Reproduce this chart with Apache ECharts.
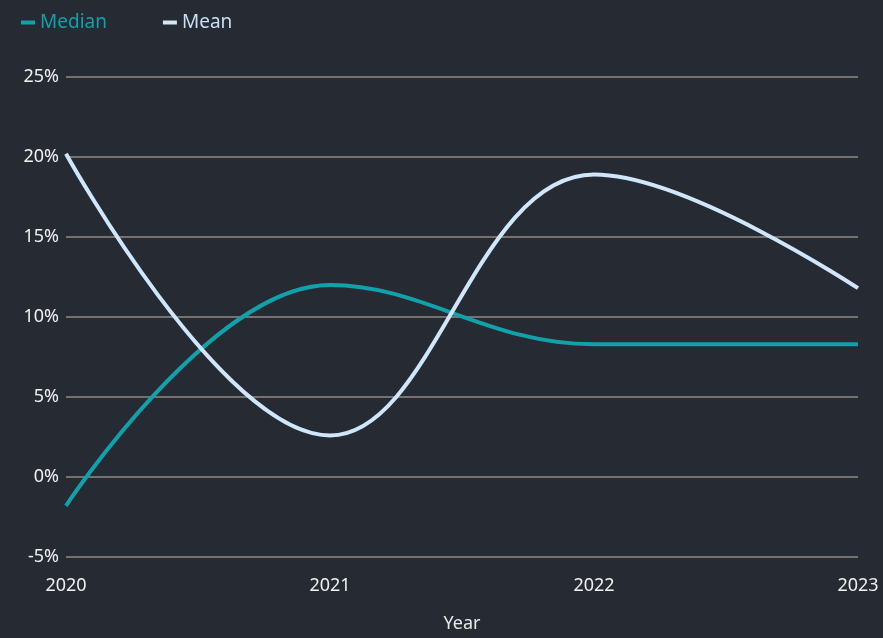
<!DOCTYPE html>
<html>
<head>
<meta charset="utf-8">
<script src="https://cdn.jsdelivr.net/npm/echarts@6/dist/echarts.min.js"></script>
<style>
  html, body { margin: 0; padding: 0; background: #262a33; }
  #chart { width: 883px; height: 638px; }
</style>
</head>
<body>
<div id="chart"></div>
<script>
let years = ['2020', '2021', '2022', '2023'];
let median = [-1.8, 12.0, 8.3, 8.3];
let mean = [20.2, 2.6, 18.9, 11.8];

let chart = echarts.init(document.getElementById('chart'));
let font = '"Noto Sans", "Open Sans", sans-serif';

chart.setOption({
    backgroundColor: '#262a33',
    textStyle: { fontFamily: font },
    legend: {
        left: 16,
        top: 8,
        itemGap: 56,
        icon: 'rect',
        itemWidth: 14,
        itemHeight: 4,
        textStyle: { fontSize: 19, fontFamily: font },
        data: [
            { name: 'Median', textStyle: { color: '#11a1ab' } },
            { name: 'Mean', textStyle: { color: '#c9dff5' } }
        ]
    },
    grid: {
        left: 66,
        right: 25,
        top: 77,
        bottom: 78,
        containLabel: false
    },
    xAxis: {
        type: 'category',
        boundaryGap: false,
        data: years,
        name: 'Year',
        nameLocation: 'middle',
        nameGap: 58,
        nameTextStyle: { color: '#e8e8e8', fontSize: 18 },
        axisLine: { show: false },
        axisTick: { show: false },
        axisLabel: { color: '#f0f0f0', fontSize: 18, margin: 20 }
    },
    yAxis: {
        type: 'value',
        min: -5,
        max: 25,
        interval: 5,
        axisLine: { show: false },
        axisTick: { show: false },
        axisLabel: { color: '#f0f0f0', fontSize: 18, margin: 7, formatter: '{value}%' },
        splitLine: { lineStyle: { color: '#8f8b86', width: 1.5 } }
    },
    series: [
        {
            name: 'Median',
            type: 'line',
            data: median,
            smooth: 0.4,
            symbol: 'none',
            color: '#11a1ab',
            lineStyle: { width: 4 }
        },
        {
            name: 'Mean',
            type: 'line',
            data: mean,
            smooth: 0.4,
            symbol: 'none',
            color: '#cfe6fb',
            lineStyle: { width: 4 }
        }
    ]
});
</script>
</body>
</html>
